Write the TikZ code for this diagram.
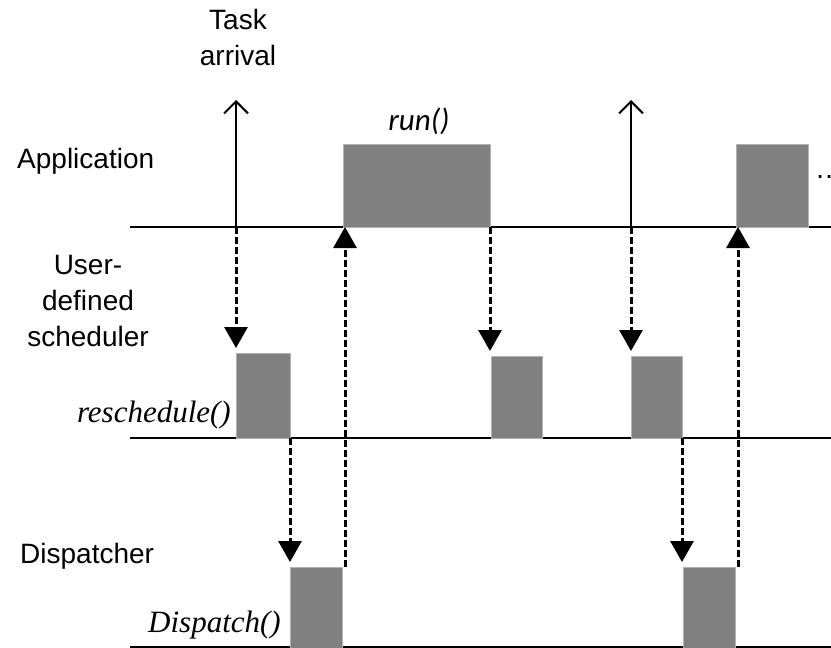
\documentclass[tikz,border=0pt]{standalone}
\usepackage{fontspec}
\setmainfont{Liberation Sans}
\newfontfamily\callserif{Liberation Serif}
\newfontfamily\callsans{Carlito}
\usepackage{tikz}
\usetikzlibrary{arrows.meta, positioning}
\definecolor{slotgray}{RGB}{128, 128, 128}
\definecolor{slotedge}{RGB}{178, 178, 178}

\begin{document}
\begin{tikzpicture}[x=1pt, y=-1pt,
    every node/.style={font=\fontsize{28}{36}\selectfont, inner sep=0pt},
    slot/.style={fill=slotgray, draw=slotedge, line width=1pt, anchor=south west,
                 inner sep=0pt, outer sep=0pt},
    callname/.style={font=\fontsize{31}{36}\selectfont\callserif\itshape},
    timeline/.style={line width=2pt},
    arrival/.style={line width=2pt, -{Straight Barb[width=24pt, length=12pt]}},
    calldown/.style={line width=3pt, dash pattern=on 7pt off 3pt,
                     -{Triangle[width=23pt, length=21pt]}, shorten >=5pt},
    callup/.style={line width=3pt, dash pattern=on 7pt off 3pt,
                   -{Triangle[width=23pt, length=21pt]}}]
        \useasboundingbox (0,0) rectangle (831,648);
        \clip (0,0) rectangle (831,648);

        % reference heights of the three levels
        \coordinate (top) at (130,100);
        \coordinate (appline) at (130,227);
        \coordinate (schedline) at (130,438);
        \coordinate (displine) at (130,647);

        % time lines
        \foreach \lvl in {appline, schedline, displine}{
          \draw[timeline] (\lvl) -- (\lvl -| 831,0);
        }

        % busy slots: name/x/base/width/height
        \foreach \n/\x/\y/\w/\h in {run/343/227/147/83, app2/736/227/72/83,
                                   sched1/236/438/54/85, sched2/491/438/51/82,
                                   sched3/631/438/51/82,
                                   disp1/290/648/52/81, disp2/683/648/52/81}{
          \node[slot, minimum width=\w pt, minimum height=\h pt] (\n) at (\x,\y) {};
        }

        % level labels
        \node[align=center, anchor=north] (taskarr) at (238,9.5) {Task\\arrival};
        \node[anchor=base west] (applbl) at (17,168) {Application};
        \node[align=center, anchor=north] (schedlbl) at (88,255.5) {User-\\defined\\scheduler};
        \node[anchor=base west] (displbl) at (20,563) {Dispatcher};

        % function names
        \node[font=\fontsize{31}{36}\selectfont\callsans\itshape, anchor=base]
          (runlbl) at (419,130) {run()};
        \node[callname, anchor=base east] (reschedlbl) at (231,422) {reschedule()};
        \node[callname, anchor=base east] (displbl2) at (281,632) {Dispatch()};
        \node[anchor=west] (more) at (815,177) {\dots};

        % first task arrival
        \draw[arrival] (sched1.north west |- appline) -- (sched1.north west |- top);
        \draw[calldown] (sched1.north west |- appline) -- (sched1.north west);
        \draw[calldown] (sched1.south east) -- (sched1.south east |- disp1.north);
        \draw[callup] ([xshift=3pt]disp1.north east) -- ([xshift=3pt]disp1.north east |- appline);
        \draw[calldown] (run.south east) -- (run.south east |- sched2.north);

        % second task arrival
        \draw[arrival] (sched3.north west |- appline) -- (sched3.north west |- top);
        \draw[calldown] (sched3.north west |- appline) -- (sched3.north west);
        \draw[calldown] (sched3.south east) -- (sched3.south east |- disp2.north);
        \draw[callup] ([xshift=3pt]disp2.north east) -- ([xshift=3pt]disp2.north east |- appline);
\end{tikzpicture}
\end{document}
